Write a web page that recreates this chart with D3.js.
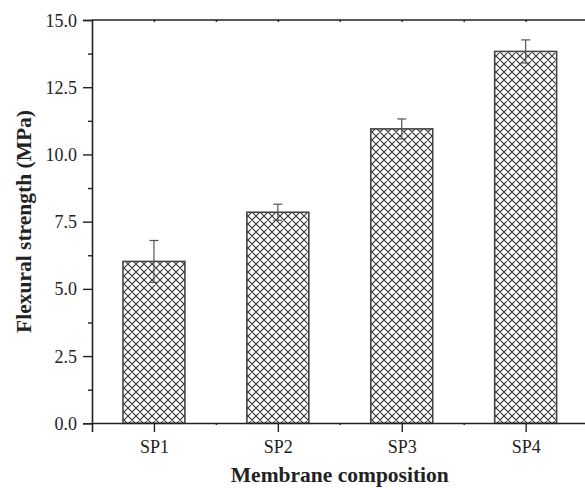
<!DOCTYPE html>
<html>
<head>
<meta charset="utf-8">
<script src="https://cdn.jsdelivr.net/npm/d3@7"></script>
<style>
  html, body { margin: 0; padding: 0; background: #fff; }
</style>
</head>
<body>
<svg id="chart" width="585" height="488"></svg>
<script>
// Flexural strength of membranes by composition
const categories = ["SP1", "SP2", "SP3", "SP4"];
const strength = [6.02, 7.85, 10.95, 13.83];
const strengthErr = [0.78, 0.30, 0.37, 0.43];
const yTicks = [0, 2.5, 5.0, 7.5, 10.0, 12.5, 15.0];
const yMinorTicks = [1.25, 3.75, 6.25, 8.75, 11.25, 13.75];

const FONT = "'Liberation Serif', 'Times New Roman', serif";
const svg = d3.select("#chart");
const margin = { left: 92, top: 20, bottom: 65 };
const plotW = 495.6;
const H = 488;
const x0 = margin.left, x1 = margin.left + plotW;
const y0 = H - margin.bottom, y1 = margin.top;

const x = d3.scaleLinear().domain([0.5, 4.5]).range([x0, x1]);
const y = d3.scaleLinear().domain([0, 15]).range([y0 + 0.3, y1]);
const barHalf = 0.25;

// crosshatch fill
const defs = svg.append("defs");
const pat = defs.append("pattern")
  .attr("id", "xhatch")
  .attr("patternUnits", "userSpaceOnUse")
  .attr("width", 8).attr("height", 8);
pat.append("path")
  .attr("d", "M0,0L8,8M8,0L0,8M-1,7L1,9M7,-1L9,1M-1,1L1,-1M7,9L9,7")
  .attr("stroke", "#333").attr("stroke-width", 1.1).attr("fill", "none");

// bars
svg.append("g").selectAll("rect")
  .data(categories)
  .join("rect")
  .attr("x", (d, i) => x(i + 1 - barHalf))
  .attr("width", (d, i) => x(i + 1 + barHalf) - x(i + 1 - barHalf))
  .attr("y", (d, i) => y(strength[i]))
  .attr("height", (d, i) => y(0) - y(strength[i]))
  .attr("fill", "url(#xhatch)")
  .attr("stroke", "#444")
  .attr("stroke-width", 1.6);

// error bars
const eb = svg.append("g").attr("stroke", "#555").attr("stroke-width", 1.2);
categories.forEach((c, i) => {
  const cx = x(i + 1);
  const hi = y(strength[i] + strengthErr[i]);
  const lo = y(strength[i] - strengthErr[i]);
  eb.append("line").attr("x1", cx).attr("x2", cx).attr("y1", hi).attr("y2", lo);
  eb.append("line").attr("x1", cx - 4.5).attr("x2", cx + 4.5).attr("y1", hi).attr("y2", hi);
  eb.append("line").attr("x1", cx - 4.5).attr("x2", cx + 4.5).attr("y1", lo).attr("y2", lo);
});

// left axis
const yAxis = d3.axisLeft(y).tickValues(yTicks).tickSize(9).tickPadding(6)
  .tickFormat(d3.format(".1f"));
const gy = svg.append("g").attr("transform", `translate(${x0},0)`).call(yAxis);
gy.attr("font-family", FONT).attr("font-size", 18);
gy.selectAll(".tick text").attr("dy", "0.34em").attr("fill", "#222");
svg.append("g").attr("transform", `translate(${x0},0)`)
  .call(d3.axisLeft(y).tickValues(yMinorTicks).tickSize(4).tickFormat(""))
  .select(".domain").remove();

// bottom axis
const xAxis = d3.axisBottom(x).tickValues([1, 2, 3, 4]).tickSize(9).tickPadding(8)
  .tickFormat(d => categories[d - 1]);
const gx = svg.append("g").attr("transform", `translate(0,${y0})`).call(xAxis);
gx.attr("font-family", FONT).attr("font-size", 18);
gx.selectAll(".tick text").attr("fill", "#222");
svg.append("g").attr("transform", `translate(0,${y0})`)
  .call(d3.axisBottom(x).tickValues([1.5, 2.5, 3.5]).tickSize(2).tickFormat(""))
  .select(".domain").remove();

// top frame line
svg.append("g").attr("transform", `translate(0,${y1})`)
  .call(d3.axisBottom(x).tickValues([1, 1.5, 2, 2.5, 3, 3.5, 4]).tickSize(2).tickFormat(""))
  .select(".domain").attr("d", `M${x0},0H${x1}`);

svg.selectAll(".domain").attr("stroke", "#222").attr("stroke-width", 1.6);
svg.selectAll(".tick line").attr("stroke", "#222").attr("stroke-width", 1.4);

// titles
svg.append("text")
  .attr("x", (x0 + x1) / 2).attr("y", 482)
  .attr("text-anchor", "middle")
  .attr("font-family", FONT)
  .attr("font-size", 21.5).attr("font-weight", "bold").attr("fill", "#222")
  .text("Membrane composition");
svg.append("text")
  .attr("transform", `translate(31,${(y0 + y1) / 2}) rotate(-90)`)
  .attr("text-anchor", "middle")
  .attr("font-family", FONT)
  .attr("font-size", 21.5).attr("font-weight", "bold").attr("fill", "#222")
  .text("Flexural strength (MPa)");
</script>
</body>
</html>
